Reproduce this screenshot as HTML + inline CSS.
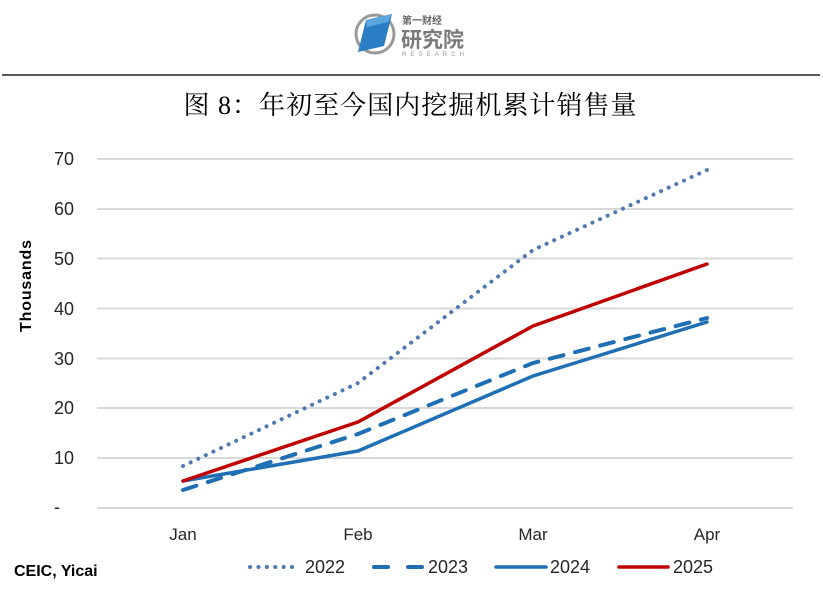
<!DOCTYPE html>
<html><head><meta charset="utf-8"><style>
html,body{margin:0;padding:0;background:#fff;}
body{width:823px;height:592px;overflow:hidden;position:relative;}
svg{position:absolute;left:0;top:0;}
</style></head><body>
<svg width="823" height="592" viewBox="0 0 823 592" xmlns="http://www.w3.org/2000/svg">
<!-- logo -->
<circle cx="375" cy="34" r="19" fill="none" stroke="#9a9a9a" stroke-width="3"/>
<path d="M366 20 L392 14 L384 46 L358 52 Z" fill="#2a7fc4"/>
<path d="M366 20 L392 14 L388 22 L367 27 Z" fill="#5aa6dd"/>
<text x="402" y="24" font-family="'Noto Sans CJK SC',sans-serif" font-size="10" font-weight="bold" fill="#666">第一财经</text>
<text x="401" y="47" font-family="'Noto Sans CJK SC',sans-serif" font-size="21" font-weight="bold" fill="#7a7a7a" textLength="63">研究院</text>
<text x="402" y="56" font-family="'Liberation Sans',sans-serif" font-size="6" fill="#999" textLength="62">RESEARCH</text>
<!-- top rule -->
<line x1="2" y1="75" x2="820" y2="75" stroke="#222" stroke-width="1.5"/>
<!-- title -->
<text x="410" y="114" text-anchor="middle" font-family="'Liberation Serif','Noto Serif CJK SC',serif" font-size="26" fill="#000" textLength="453">图 8：年初至今国内挖掘机累计销售量</text>
<!-- gridlines -->
<g stroke="#d9d9d9" stroke-width="2">
<line x1="97" y1="159" x2="793" y2="159"/>
<line x1="97" y1="209" x2="793" y2="209"/>
<line x1="97" y1="258.5" x2="793" y2="258.5"/>
<line x1="97" y1="308.5" x2="793" y2="308.5"/>
<line x1="97" y1="358.5" x2="793" y2="358.5"/>
<line x1="97" y1="408" x2="793" y2="408"/>
<line x1="97" y1="458" x2="793" y2="458"/>
<line x1="97" y1="508" x2="793" y2="508"/>
</g>
<!-- y tick labels -->
<g font-family="'Liberation Sans',sans-serif" font-size="18" fill="#262626" text-anchor="end">
<text x="74" y="165">70</text>
<text x="74" y="215">60</text>
<text x="74" y="265">50</text>
<text x="74" y="315">40</text>
<text x="74" y="365">30</text>
<text x="74" y="414">20</text>
<text x="74" y="464">10</text>
<text x="60" y="513">-</text>
</g>
<text transform="translate(31,286) rotate(-90)" text-anchor="middle" font-family="'Liberation Sans',sans-serif" font-weight="bold" font-size="16" fill="#000" textLength="92">Thousands</text>
<!-- x labels -->
<g font-family="'Liberation Sans',sans-serif" font-size="17" fill="#262626" text-anchor="middle">
<text x="183" y="540">Jan</text>
<text x="358" y="540">Feb</text>
<text x="533" y="540">Mar</text>
<text x="707" y="540">Apr</text>
</g>
<!-- series -->
<polyline points="183,466 358,383 533,250 707,170" fill="none" stroke="#4f79b0" stroke-width="4" stroke-linecap="round" stroke-dasharray="0.1 8.3"/>
<polyline points="183,490 358,434 533,363 707,318" fill="none" stroke="#1f6fb4" stroke-width="4" stroke-linecap="round" stroke-dasharray="14 12"/>
<polyline points="183,481 358,451 533,376 707,322" fill="none" stroke="#1f6fb4" stroke-width="3.5" stroke-linecap="round" stroke-linejoin="round"/>
<polyline points="183,481 358,422 533,326 707,264" fill="none" stroke="#c00000" stroke-width="3.5" stroke-linecap="round" stroke-linejoin="round"/>
<!-- legend -->
<line x1="250" y1="567" x2="300" y2="567" stroke="#4f79b0" stroke-width="4" stroke-linecap="round" stroke-dasharray="0.1 8.3"/>
<line x1="374" y1="567" x2="424" y2="567" stroke="#1f6fb4" stroke-width="4" stroke-linecap="round" stroke-dasharray="14 20"/>
<line x1="496" y1="567" x2="546" y2="567" stroke="#1f6fb4" stroke-width="3.5" stroke-linecap="round"/>
<line x1="619" y1="567" x2="668" y2="567" stroke="#c00000" stroke-width="3.5" stroke-linecap="round"/>
<g font-family="'Liberation Sans',sans-serif" font-size="18" fill="#262626">
<text x="305" y="573">2022</text>
<text x="428" y="573">2023</text>
<text x="550" y="573">2024</text>
<text x="673" y="573">2025</text>
</g>
<text x="14" y="576" font-family="'Liberation Sans',sans-serif" font-weight="bold" font-size="16" fill="#000">CEIC, Yicai</text>
</svg>
</body></html>
